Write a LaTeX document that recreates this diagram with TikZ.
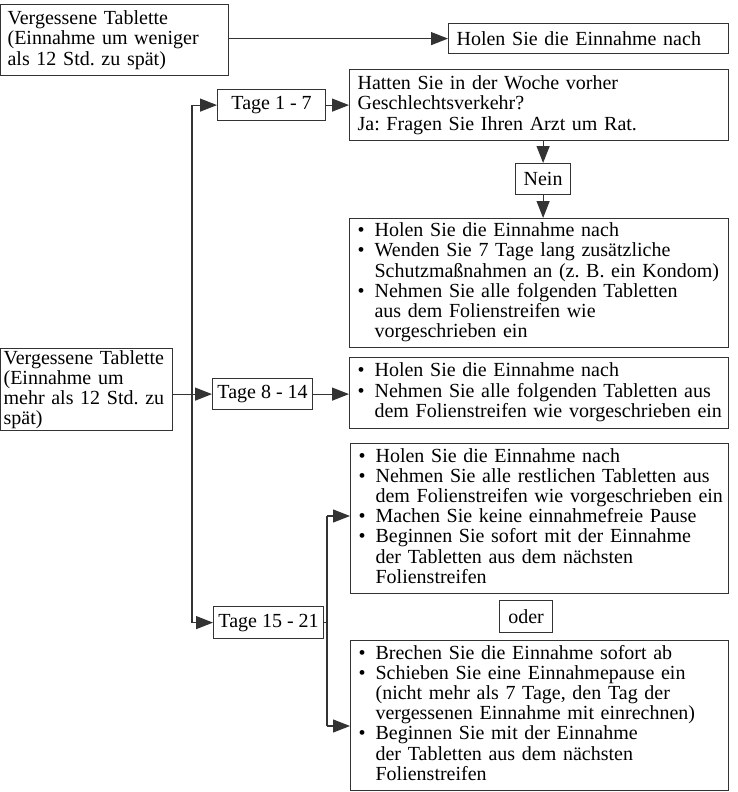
\documentclass[tikz,border=0pt]{standalone}
\usepackage{fontspec}
\setmainfont{Liberation Serif}
\usetikzlibrary{arrows.meta}
\newcommand{\bt}{\textbullet}
\newenvironment{blist}{\begin{tabular}{@{}l@{\hspace{10pt}}l@{}}}{\end{tabular}}
\begin{document}
\begin{tikzpicture}[x=1pt,y=-1pt,
  every node/.style={font=\fontsize{20}{20.2}\selectfont\frenchspacing},
  bx/.style={draw=black!80,line width=1.2pt,anchor=north west,inner xsep=8pt,inner ysep=0pt,align=left},
  lbl/.style={draw=black!80,line width=1.2pt,anchor=north west,inner sep=0pt,align=center},
  sz/.style n args={3}{minimum width=#1pt,minimum height=#2pt,text width=#3pt},
  dm/.style 2 args={minimum width=#1pt,minimum height=#2pt},
  arr/.style={draw=black!80,line width=1.2pt,-{Triangle[length=17pt,width=13pt]}},
  ln/.style={draw=black!80,line width=1.2pt}]
\useasboundingbox (0,0) rectangle (738,792);

\node[bx,sz={228}{71}{214},inner xsep=7pt] (A) at (0,4) {Vergessene Tablette\\(Einnahme um weniger\\als 12 Std. zu spät)};
\node[bx,sz={280}{30}{264}] (H) at (448,23) {Holen Sie die Einnahme nach};
\node[lbl,dm={108}{31}] (T1) at (217,89) {Tage 1 - 7};
\node[bx,sz={379}{71}{363}] (Q) at (349,69) {Hatten Sie in der Woche vorher\\Geschlechtsverkehr?\\Ja: Fragen Sie Ihren Arzt um Rat.};
\node[lbl,dm={55}{31}] (N) at (515,163) {Nein};
\node[bx,sz={379}{129}{363}] (C1) at (349,218) {\begin{blist}
\bt & Holen Sie die Einnahme nach\\
\bt & Wenden Sie 7 Tage lang zusätzliche\\
 & Schutzmaßnahmen an (z. B. ein Kondom)\\
\bt & Nehmen Sie alle folgenden Tabletten\\
 & aus dem Folienstreifen wie\\
 & vorgeschrieben ein
\end{blist}};
\node[bx,sz={172}{82}{166},inner xsep=3pt] (B) at (0,348) {Vergessene Tablette\\(Einnahme um\\mehr als 12 Std. zu\\spät)};
\node[lbl,dm={100}{31}] (T2) at (212,378) {Tage 8 - 14};
\node[bx,sz={379}{71}{363}] (C2) at (349,357) {\begin{blist}
\bt & Holen Sie die Einnahme nach\\
\bt & Nehmen Sie alle folgenden Tabletten aus\\
 & dem Folienstreifen wie vorgeschrieben ein
\end{blist}};
\node[bx,sz={378}{150}{362}] (C3) at (350,443) {\begin{blist}
\bt & Holen Sie die Einnahme nach\\
\bt & Nehmen Sie alle restlichen Tabletten aus\\
 & dem Folienstreifen wie vorgeschrieben ein\\
\bt & Machen Sie keine einnahmefreie Pause\\
\bt & Beginnen Sie sofort mit der Einnahme\\
 & der Tabletten aus dem nächsten\\
 & Folienstreifen
\end{blist}};
\node[lbl,dm={53}{32}] (O) at (499,600) {oder};
\node[lbl,dm={110}{32}] (T3) at (213,606) {Tage 15 - 21};
\node[bx,sz={378}{150}{362}] (C4) at (350,640) {\begin{blist}
\bt & Brechen Sie die Einnahme sofort ab\\
\bt & Schieben Sie eine Einnahmepause ein\\
 & (nicht mehr als 7 Tage, den Tag der\\
 & vergessenen Einnahme mit einrechnen)\\
\bt & Beginnen Sie mit der Einnahme\\
 & der Tabletten aus dem nächsten\\
 & Folienstreifen
\end{blist}};

\coordinate (v1) at (192,0);
\coordinate (p3) at (327,516);
\coordinate (p4) at (327,726);

\draw[arr] (A.east |- H.west) -- (H.west);
\draw[arr] (T1.east) -- (T1.east -| Q.west);
\draw[arr] (N.north |- Q.south) -- (N.north);
\draw[arr] (N.south) -- (N.south |- C1.north);
\draw[ln] (v1 |- T1.west) -- (v1 |- T3.west);
\draw[arr] (v1 |- T1.west) -- (T1.west);
\draw[arr] (v1 |- T3.west) -- (T3.west);
\draw[arr] (B.east |- T2.west) -- (T2.west);
\draw[arr] (T2.east) -- (T2.east -| C2.west);
\draw[ln] (T3.east) -- (T3.east -| p3);
\draw[ln] (p3) -- (p4);
\draw[arr] (p3) -- (p3 -| C3.west);
\draw[arr] (p4) -- (p4 -| C4.west);
\end{tikzpicture}
\end{document}
